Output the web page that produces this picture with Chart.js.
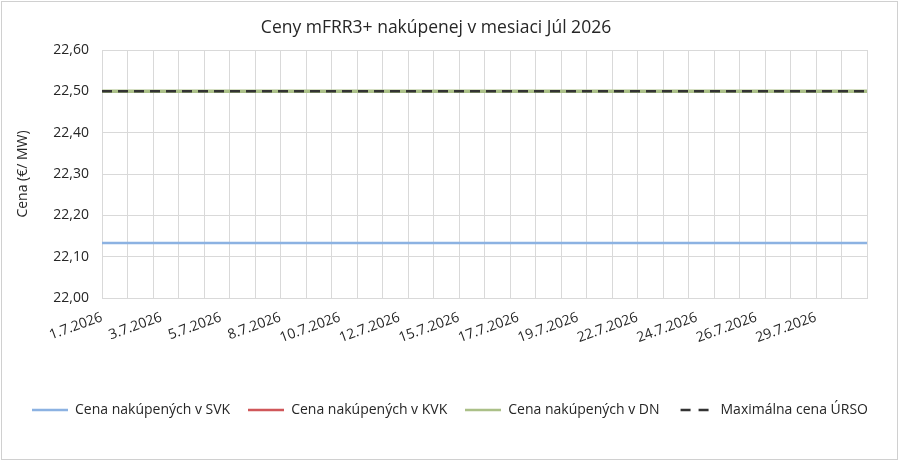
<!DOCTYPE html>
<html>
<head>
<meta charset="utf-8">
<script src="https://cdn.jsdelivr.net/npm/chart.js@4.4.1/dist/chart.umd.min.js"></script>
<style>
html,body{margin:0;padding:0;background:#fff;}
#wrap{position:relative;width:900px;height:462px;}
</style>
</head>
<body>
<div id="wrap"><canvas id="c" width="900" height="462"></canvas></div>
<script>
// Days of July 2026, three blocks per day (day 31 only first block visible)
const days = ['1.7.2026','2.7.2026','3.7.2026','4.7.2026','5.7.2026','6.7.2026','7.7.2026','8.7.2026','9.7.2026','10.7.2026',
  '11.7.2026','12.7.2026','13.7.2026','14.7.2026','15.7.2026','16.7.2026','17.7.2026','18.7.2026','19.7.2026','20.7.2026',
  '21.7.2026','22.7.2026','23.7.2026','24.7.2026','25.7.2026','26.7.2026','27.7.2026','28.7.2026','29.7.2026','30.7.2026','31.7.2026'];
const blocksPerDay = [3,3,3,3,3,3,3,3,3,3,3,3,3,3,3,3,3,3,3,3,3,3,3,3,3,3,3,3,3,3,1];
// Daily prices (€/MW)
const svkDaily = [22.133,22.133,22.133,22.133,22.133,22.133,22.133,22.133,22.133,22.133,22.133,22.133,22.133,22.133,22.133,22.133,22.133,22.133,22.133,22.133,22.133,22.133,22.133,22.133,22.133,22.133,22.133,22.133,22.133,22.133,22.133];
const kvkDaily = [22.50,22.50,22.50,22.50,22.50,22.50,22.50,22.50,22.50,22.50,22.50,22.50,22.50,22.50,22.50,22.50,22.50,22.50,22.50,22.50,22.50,22.50,22.50,22.50,22.50,22.50,22.50,22.50,22.50,22.50,22.50];
const dnDaily  = [22.50,22.50,22.50,22.50,22.50,22.50,22.50,22.50,22.50,22.50,22.50,22.50,22.50,22.50,22.50,22.50,22.50,22.50,22.50,22.50,22.50,22.50,22.50,22.50,22.50,22.50,22.50,22.50,22.50,22.50,22.50];
const maxDaily = [22.50,22.50,22.50,22.50,22.50,22.50,22.50,22.50,22.50,22.50,22.50,22.50,22.50,22.50,22.50,22.50,22.50,22.50,22.50,22.50,22.50,22.50,22.50,22.50,22.50,22.50,22.50,22.50,22.50,22.50,22.50];
const seriesNames = ['Cena nakúpených v SVK','Cena nakúpených v KVK','Cena nakúpených v DN','Maximálna cena ÚRSO'];
const titleText = 'Ceny mFRR3+ nakúpenej v mesiaci Júl 2026';
const yTitle = 'Cena (€/ MW)';
const yMin = 22.00, yMax = 22.60, yStep = 0.10;

function expand(arr){const out=[];arr.forEach((v,i)=>{for(let k=0;k<blocksPerDay[i];k++)out.push(v);});return out;}
const labels = expand(days);

const FONT = "'Open Sans', 'DejaVu Sans', sans-serif";
const GRID = '#d9d9d9';
const TXT = '#262626';

// legend sample images
function sample(color, dashed){
  const cv=document.createElement('canvas');cv.width=36;cv.height=4;
  const g=cv.getContext('2d');g.strokeStyle=color;g.lineWidth=2.5;
  if(dashed){g.setLineDash([10,8]);g.lineDashOffset=-3;}
  g.beginPath();g.moveTo(0,2);g.lineTo(36,2);g.stroke();
  return cv;
}

const frame = {
  id:'frame',
  beforeDraw(chart){
    const ctx=chart.ctx;
    ctx.save();
    ctx.fillStyle='#fff';ctx.fillRect(0,0,chart.width,chart.height);
    ctx.strokeStyle='#d0d0d0';ctx.lineWidth=1;
    ctx.strokeRect(1.5,1.5,chart.width-4,chart.height-4);
    ctx.restore();
  },
  afterDraw(chart){
    const ctx=chart.ctx;
    ctx.save();
    ctx.font="17.5px "+FONT;
    ctx.fillStyle=TXT;
    ctx.textAlign='center';ctx.textBaseline='middle';
    ctx.fillText(titleText,436,28);
    ctx.restore();
  }
};

new Chart(document.getElementById('c'),{
  type:'line',
  data:{
    labels:labels,
    datasets:[
      {label:seriesNames[0],data:expand(svkDaily),borderColor:'#8cb2e2',backgroundColor:'#8cb2e2',borderWidth:2.5,pointRadius:0,pointStyle:sample('#8cb2e2',false),order:3},
      {label:seriesNames[1],data:expand(kvkDaily),borderColor:'#d0575a',backgroundColor:'#d0575a',borderWidth:2.5,pointRadius:0,pointStyle:sample('#d0575a',false),order:2},
      {label:seriesNames[2],data:expand(dnDaily),borderColor:'#abc088',backgroundColor:'#abc088',borderWidth:3.5,pointRadius:0,pointStyle:sample('#abc088',false),order:1},
      {label:seriesNames[3],data:expand(maxDaily),borderColor:'#333333',backgroundColor:'#333333',borderWidth:2.5,borderDash:[10,6],pointRadius:0,pointStyle:sample('#333333',true),order:0}
    ]
  },
  options:{
    responsive:false,
    animation:false,
    devicePixelRatio:1,
    layout:{padding:{top:50,left:0,right:0,bottom:35}},
    plugins:{
      title:{display:false},
      tooltip:{enabled:false},
      legend:{
        position:'bottom',
        labels:{
          usePointStyle:true,pointStyleWidth:36,boxHeight:12,
          color:TXT,font:{family:FONT,size:14},padding:18,
          sort:(a,b)=>a.datasetIndex-b.datasetIndex
        }
      }
    },
    scales:{
      x:{
        offset:false,
        grid:{color:(c)=>(c.index%3===0?GRID:'rgba(0,0,0,0)'),lineWidth:1,drawTicks:false},
        border:{color:GRID},
        ticks:{autoSkip:false,maxRotation:20,minRotation:20,padding:11,color:TXT,font:{family:FONT,size:14},
          callback:function(v,i){return i%7===0?this.getLabelForValue(v):'';}},
        afterFit(s){s.height=87;}
      },
      y:{
        min:yMin,max:yMax,
        grid:{color:GRID,drawTicks:false},
        border:{color:GRID},
        ticks:{stepSize:yStep,padding:13,color:TXT,font:{family:FONT,size:14},
          callback:(v)=>Number(v).toFixed(2).replace('.',',')},
        title:{display:true,text:yTitle,color:TXT,font:{family:FONT,size:14},padding:{top:15,bottom:0}},
        afterFit(s){s.width=102;}
      },
      yRightSpace:{
        position:'right',min:yMin,max:yMax,
        grid:{display:false,drawOnChartArea:false},
        border:{display:false},
        ticks:{display:false},
        afterFit(s){s.width=33;}
      }
    }
  },
  plugins:[frame]
});
</script>
</body>
</html>
